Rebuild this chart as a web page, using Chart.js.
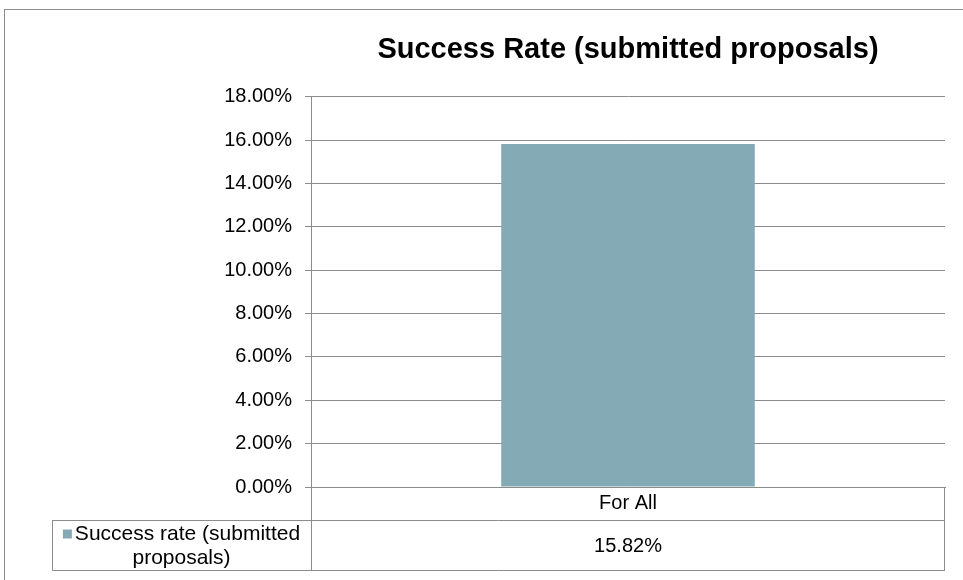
<!DOCTYPE html>
<html>
<head>
<meta charset="utf-8">
<script src="https://cdn.jsdelivr.net/npm/chart.js@4.4.0/dist/chart.umd.min.js"></script>
<style>
  html, body { margin: 0; padding: 0; background: #fff; }
  #chart { display: block; }
</style>
</head>
<body>
<canvas id="chart" width="963" height="580"></canvas>
<script>
// chart data
const categories = ['For All'];
const seriesName = 'Success rate (submitted proposals)';
const seriesLines = ['Success rate (submitted', 'proposals)'];
const successRate = [15.82];
const yMax = 18;
const yStep = 2;

const barColor = '#84abb5';
const lineColor = '#8c8c8c';
const font = 'Liberation Sans, Arial, sans-serif';

// draws the frame and the data table under the plot
const dataTable = {
  id: 'dataTable',
  afterDraw(chart) {
    const ctx = chart.ctx;
    const area = chart.chartArea;
    const x = chart.scales.x;
    const rowTop = area.bottom + x.height;
    const rowBottom = rowTop + 50;
    const keyLeft = 52;

    ctx.save();
    // outer frame
    ctx.strokeStyle = '#8c8c8c';
    ctx.lineWidth = 1;
    ctx.strokeRect(4.5, 9.5, 1000, 620);

    ctx.strokeStyle = lineColor;
    ctx.beginPath();
    // verticals of the category row
    ctx.moveTo(area.left + 0.5, area.bottom);
    ctx.lineTo(area.left + 0.5, rowBottom);
    ctx.moveTo(area.right - 0.5, area.bottom);
    ctx.lineTo(area.right - 0.5, rowBottom);
    // series row box
    ctx.moveTo(keyLeft + 0.5, rowTop + 0.5);
    ctx.lineTo(area.right, rowTop + 0.5);
    ctx.moveTo(keyLeft + 0.5, rowTop);
    ctx.lineTo(keyLeft + 0.5, rowBottom + 0.5);
    ctx.lineTo(area.right, rowBottom + 0.5);
    ctx.stroke();

    // legend key and series name
    ctx.font = '21px ' + font;
    ctx.fillStyle = '#000';
    ctx.textBaseline = 'middle';
    const cx = (keyLeft + area.left) / 2;
    const w1 = ctx.measureText(seriesLines[0]).width;
    const keySize = 9;
    const start = cx - (w1 + keySize + 3) / 2;
    ctx.fillStyle = barColor;
    ctx.fillRect(start, rowTop + 14 - keySize / 2, keySize, keySize);
    ctx.fillStyle = '#000';
    ctx.textAlign = 'left';
    ctx.fillText(seriesLines[0], start + keySize + 3, rowTop + 14);
    ctx.textAlign = 'center';
    ctx.fillText(seriesLines[1], cx, rowTop + 38);

    // values
    ctx.font = '20px ' + font;
    const data = chart.data.datasets[0].data;
    data.forEach((v, i) => {
      ctx.fillText(v.toFixed(2) + '%', x.getPixelForValue(i), (rowTop + rowBottom) / 2 + 1);
    });
    ctx.restore();
  }
};

new Chart(document.getElementById('chart'), {
  type: 'bar',
  data: {
    labels: categories,
    datasets: [{
      label: seriesName,
      data: successRate,
      backgroundColor: barColor,
      categoryPercentage: 0.4,
      barPercentage: 1.0
    }]
  },
  options: {
    responsive: false,
    animation: false,
    layout: { padding: { top: 20, bottom: 60, right: 18, left: 0 } },
    plugins: {
      legend: { display: false },
      tooltip: { enabled: false },
      title: {
        display: true,
        fullSize: false,
        text: 'Success Rate (submitted proposals)',
        color: '#000',
        font: { family: font, size: 29, weight: 'bold' },
        padding: { top: 13, bottom: 29 }
      }
    },
    scales: {
      x: {
        grid: { display: false, drawTicks: false },
        border: { color: lineColor },
        ticks: { color: '#000', font: { family: font, size: 20 }, padding: 4 },
        afterFit(scale) { scale.height = 33; }
      },
      y: {
        min: 0,
        max: yMax,
        ticks: {
          stepSize: yStep,
          color: '#000',
          padding: 13,
          font: { family: font, size: 20 },
          callback: v => v.toFixed(2) + '%'
        },
        grid: { color: lineColor, tickLength: 6 },
        border: { color: lineColor },
        afterFit(scale) { scale.width = 311; }
      }
    }
  },
  plugins: [dataTable]
});
</script>
</body>
</html>
